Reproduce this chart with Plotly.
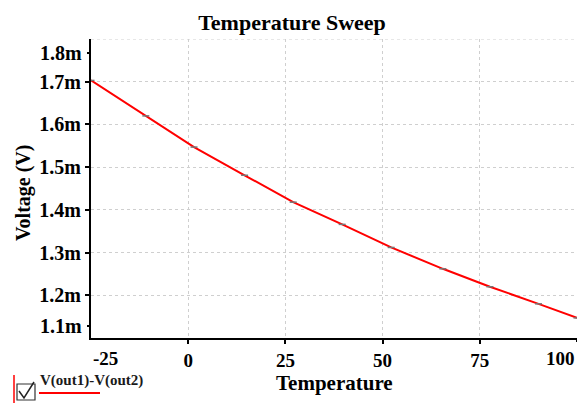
import plotly.graph_objects as go

# Data
temperature = [-25, -10.9, 1.5, 14.5, 27.0, 39.6, 52.2, 65.5, 77.6, 90.1, 100]
voltage_mv = [1.703, 1.620, 1.547, 1.481, 1.418, 1.366, 1.312, 1.262, 1.220, 1.180, 1.147]
voltage = [v * 1e-3 for v in voltage_mv]
x_ticks = [0, 25, 50, 75]
x_tick_labels = ["0", "25", "50", "75"]
y_ticks_mv = [1.2, 1.3, 1.4, 1.5, 1.6, 1.7]
y_tick_labels = ["1.2m", "1.3m", "1.4m", "1.5m", "1.6m", "1.7m"]
series_name = "V(out1)-V(out2)"

W, H = 577, 403
L, R, T, B = 91, 577, 39, 338
FONT = "Liberation Serif"

def px(x):
    return (x - L) / (R - L)

def py(y):
    return (B - y) / (B - T)

fig = go.Figure()
fig.add_trace(go.Scatter(
    x=temperature, y=voltage, mode="lines+markers",
    line=dict(color="#ff0000", width=2),
    marker=dict(symbol="line-ew-open", size=5, color="#777777", line=dict(color="#777777", width=1.5)),
    name=series_name, showlegend=False,
))

tick_font = dict(family=FONT, size=20, color="black", weight="bold")
xtick_font = dict(family=FONT, size=19, color="black", weight="bold")

fig.update_layout(
    width=W, height=H,
    margin=dict(l=L, r=W - R, t=T, b=H - B, autoexpand=False),
    paper_bgcolor="white", plot_bgcolor="white",
    title=dict(text="Temperature Sweep", x=(197 + 387) / 2 / W, xanchor="center",
               y=1 - 22 / H, yanchor="middle",
               font=dict(family=FONT, size=22, color="black", weight="bold")),
    xaxis=dict(range=[-25, 100], tickvals=x_ticks, ticktext=x_tick_labels,
               showline=True, linecolor="black", linewidth=2, ticks="outside", ticklen=4,
               tickwidth=2, tickcolor="black", tickfont=xtick_font,
               showgrid=True, gridcolor="#cfcfcf", griddash="dot", gridwidth=1,
               zeroline=False, automargin=False),
    yaxis=dict(range=[1.1e-3, 1.8e-3], tickvals=[v * 1e-3 for v in y_ticks_mv], ticktext=y_tick_labels,
               showline=True, linecolor="black", linewidth=2, ticks="outside", ticklen=4,
               tickwidth=2, tickcolor="black", tickfont=tick_font,
               showgrid=True, gridcolor="#cfcfcf", griddash="dot", gridwidth=1,
               zeroline=False, automargin=False),
)

# axis titles
fig.add_annotation(text="Temperature", xref="paper", yref="paper", x=px(334), y=py(383),
                   xanchor="center", yanchor="middle", showarrow=False,
                   font=dict(family=FONT, size=21, color="black", weight="bold"))
fig.add_annotation(text="Voltage (V)", xref="paper", yref="paper", x=px(23), y=py(193),
                   xanchor="center", yanchor="middle", showarrow=False, textangle=-90,
                   font=dict(family=FONT, size=20, color="black", weight="bold"))

# top gridline at 1.8m
fig.add_shape(type="line", xref="paper", yref="y", x0=0, x1=1, y0=1.8e-3, y1=1.8e-3,
              line=dict(color="#cfcfcf", width=1, dash="dot"))

# shifted end labels (as in the reference)
fig.add_annotation(text="1.8m", xref="paper", yref="y", x=px(84), y=1.8e-3, yshift=-14,
                   xanchor="right", yanchor="middle", showarrow=False, font=tick_font)
fig.add_annotation(text="1.1m", xref="paper", yref="y", x=px(84), y=1.1e-3, yshift=12,
                   xanchor="right", yanchor="middle", showarrow=False, font=tick_font)
for yy in (53, 326):
    fig.add_shape(type="line", xref="paper", yref="paper", x0=px(87), x1=px(91),
                  y0=py(yy), y1=py(yy), line=dict(color="black", width=2))
fig.add_annotation(text="-25", xref="x", yref="paper", x=-25, xshift=14, y=py(358),
                   xanchor="center", yanchor="middle", showarrow=False, font=xtick_font)
fig.add_annotation(text="100", xref="x", yref="paper", x=100, y=py(358),
                   xanchor="right", yanchor="middle", showarrow=False, font=xtick_font)
fig.add_shape(type="line", xref="x", yref="paper", x0=100, x1=100, y0=py(338), y1=py(342),
              line=dict(color="black", width=2))

# legend-like entry at bottom-left
fig.add_shape(type="line", xref="paper", yref="paper", x0=px(14), x1=px(14), y0=py(375), y1=py(403),
              line=dict(color="#ff0000", width=1.5))
fig.add_shape(type="rect", xref="paper", yref="paper", x0=px(17), x1=px(35), y0=py(400), y1=py(384),
              line=dict(color="#333333", width=1.2), fillcolor="white")
fig.add_shape(type="path", xref="paper", yref="paper",
              path=f"M {px(19)} {py(391)} L {px(24)} {py(398)} L {px(34)} {py(382)}",
              line=dict(color="#222222", width=1.5))
fig.add_annotation(text=series_name, xref="paper", yref="paper", x=px(38), y=py(381),
                   xanchor="left", yanchor="middle", showarrow=False,
                   font=dict(family=FONT, size=15, color="#1a1a1a", weight="bold"))
fig.add_shape(type="line", xref="paper", yref="paper", x0=px(39), x1=px(100), y0=py(393), y1=py(393),
              line=dict(color="#ff0000", width=2))

fig.write_html("out.html")
